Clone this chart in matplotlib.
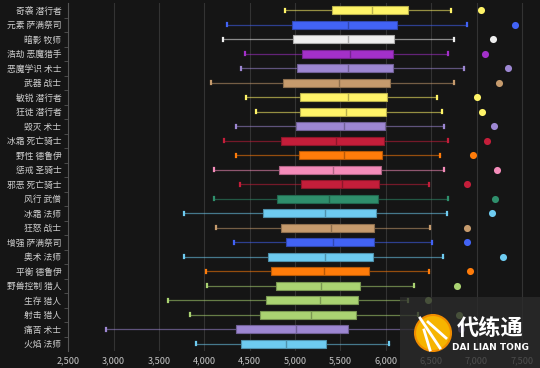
import matplotlib
matplotlib.use("Agg")
import matplotlib.pyplot as plt
from matplotlib.patches import Rectangle, Ellipse
from matplotlib.lines import Line2D

plt.rcParams['font.family'] = ['Noto Sans CJK SC', 'DejaVu Sans']

# spec labels, top to bottom
specs = ['奇袭 潜行者', '元素 萨满祭司', '暗影 牧师', '浩劫 恶魔猎手', '恶魔学识 术士',
         '武器 战士', '敏锐 潜行者', '狂徒 潜行者', '毁灭 术士', '冰霜 死亡骑士',
         '野性 德鲁伊', '惩戒 圣骑士', '邪恶 死亡骑士', '风行 武僧', '冰霜 法师',
         '狂怒 战士', '增强 萨满祭司', '奥术 法师', '平衡 德鲁伊', '野兽控制 猎人',
         '生存 猎人', '射击 猎人', '痛苦 术士', '火焰 法师']
low = [4890, 4250, 4210, 4450, 4400, 4070, 4460, 4570, 4350, 4220, 4350, 4110,
       4390, 4110, 3770, 4130, 4330, 3780, 4020, 4030, 3600, 3840, 2920, 3910]
q1 = [5410, 4970, 4980, 5080, 5020, 4870, 5050, 5050, 5010, 4850, 5040, 4820,
      5060, 4800, 4650, 4840, 4900, 4700, 4740, 4790, 4680, 4610, 4350, 4400]
median = [5850, 5580, 5580, 5600, 5580, 5480, 5580, 5560, 5540, 5450, 5540, 5420,
          5520, 5370, 5330, 5400, 5420, 5330, 5320, 5290, 5280, 5180, 5010, 4900]
q3 = [6240, 6120, 6090, 6080, 6080, 6050, 6010, 6000, 5990, 5980, 5960, 5950,
      5930, 5910, 5890, 5870, 5870, 5860, 5810, 5720, 5690, 5670, 5580, 5340]
high = [6720, 6900, 6750, 6690, 6860, 6750, 6570, 6620, 6640, 6690, 6600, 6640,
        6480, 6690, 6680, 6490, 6510, 6630, 6480, 6310, 6240, 6360, 6350, 6040]
outlier = [7050, 7420, 7180, 7090, 7350, 7250, 7000, 7060, 7190, 7120, 6960, 7230,
           6890, 7200, 7170, 6900, 6900, 7290, 6930, 6780, 6470, 6810, 6830, 6600]

class_color = {
    '潜行者': '#fff468', '萨满祭司': '#4263f5', '牧师': '#eeeeee', '恶魔猎手': '#a330c9',
    '术士': '#9d87d2', '战士': '#c69b6d', '死亡骑士': '#c41e3a', '德鲁伊': '#ff7c0a',
    '圣骑士': '#f48cba', '武僧': '#2f8f6c', '法师': '#6ecbf0', '猎人': '#aad372',
}

bg = '#151515'
fig = plt.figure(figsize=(5.4, 3.68), dpi=100, facecolor=bg)
ax = fig.add_axes([68.3 / 540, 17 / 368, 1 - 68.3 / 540, 348 / 368], facecolor=bg)

n = len(specs)
pos = list(range(n))[::-1]
stats = [dict(whislo=low[i], q1=q1[i], med=median[i], q3=q3[i], whishi=high[i],
              fliers=[], label=specs[i]) for i in range(n)]

art = ax.bxp(stats, positions=pos, vert=False, widths=0.58, capwidths=0.22,
             patch_artist=True, showfliers=False, manage_ticks=False)

for i in range(n):
    c = class_color[specs[i].split(' ')[1]]
    dark = tuple(v * 0.72 for v in matplotlib.colors.to_rgb(c))
    art['boxes'][i].set(facecolor=c, edgecolor=dark, linewidth=0.8, zorder=3)
    art['medians'][i].set(color=dark, linewidth=1.0, zorder=4)
    for w in art['whiskers'][2 * i:2 * i + 2]:
        w.set(color=c, alpha=0.55, linewidth=0.9, zorder=2)
    for cp in art['caps'][2 * i:2 * i + 2]:
        cp.set(color=c, linewidth=1.6, zorder=2)
    ax.scatter(outlier[i], pos[i], s=26, color=c, zorder=5, linewidths=0)

ax.set_xlim(2500, 7700)
ax.set_ylim(-0.5, n - 0.5)
ax.set_xticks(range(2500, 7501, 500))
ax.set_xticklabels([f'{v:,}' for v in range(2500, 7501, 500)])
ax.set_yticks(pos)
ax.set_yticklabels(specs)
ax.set_yticks([p + 0.5 for p in range(n - 1)], minor=True)
ax.tick_params(axis='y', which='major', length=0, labelsize=6.3, colors='#cfcfcf', pad=5)
ax.tick_params(axis='y', which='minor', length=3, color='#555555', width=0.6)
ax.tick_params(axis='x', length=0, labelsize=6.6, colors='#c4c4c4', pad=4)
ax.xaxis.grid(True, color='#333333', linewidth=0.8)
ax.set_axisbelow(True)
for s in ['top', 'right', 'bottom']:
    ax.spines[s].set_visible(False)
ax.spines['left'].set_color('#555555')
ax.spines['left'].set_linewidth(0.8)

# watermark
fig.add_artist(Rectangle((400 / 540, 0), 140 / 540, 71 / 368, transform=fig.transFigure,
                         facecolor='#2b2b2b', alpha=0.78, edgecolor='none', zorder=10))
fig.add_artist(Ellipse((433 / 540, 35 / 368), 36 / 540, 36 / 368, transform=fig.transFigure,
                       facecolor='#f6b400', edgecolor='#f08c00', linewidth=1.5, zorder=11))
for xs, ys in [((420, 440), (318, 348)), ((428, 446), (322, 338)), ((424, 430), (330, 350))]:
    fig.add_artist(Line2D([x / 540 for x in xs], [(368 - y) / 368 for y in ys],
                          transform=fig.transFigure, color='white', linewidth=2, zorder=12))
fig.text(490 / 540, 39 / 368, '代练通', color='white', fontsize=16, fontweight='bold',
         ha='center', va='center', zorder=12)
fig.text(490 / 540, 21 / 368, 'DAI LIAN TONG', color='white', fontsize=6.5, fontweight='bold',
         ha='center', va='center', family=['DejaVu Sans'], zorder=12)

fig.savefig('out.png', dpi=100, facecolor=bg)
